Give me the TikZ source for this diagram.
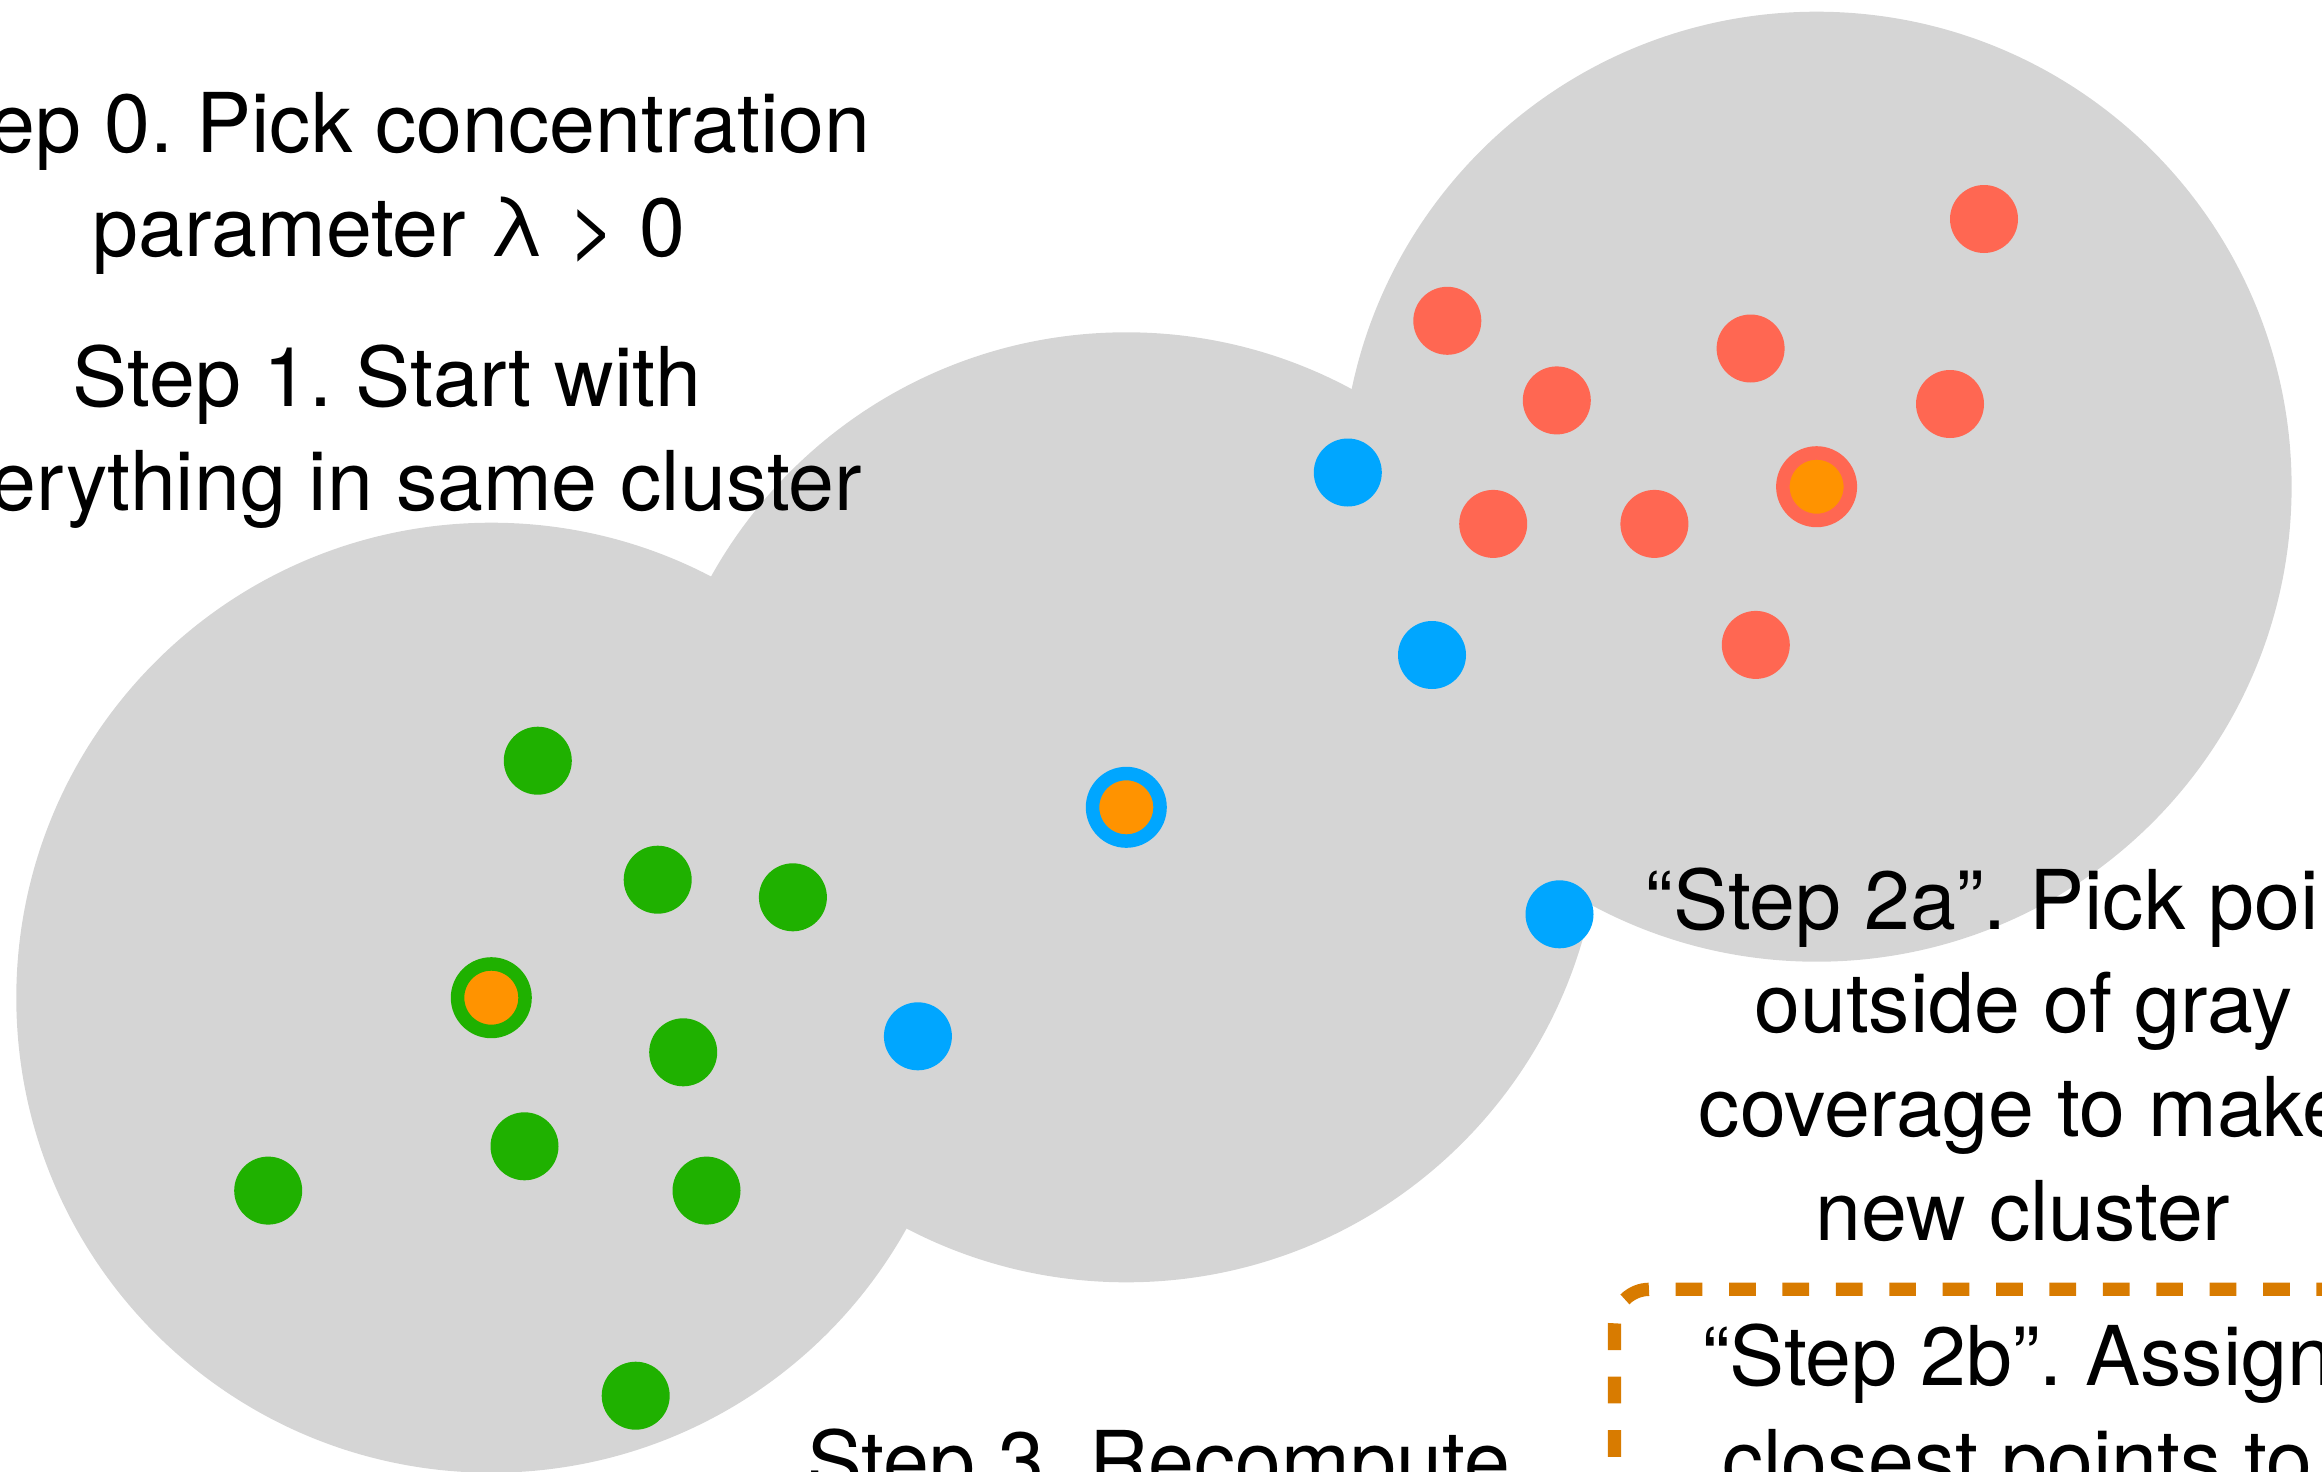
\documentclass[tikz,border=0pt]{standalone}
\usepackage{fontspec}
\setmainfont{TeX Gyre Heros}
\definecolor{cgray}{HTML}{D5D5D5}
\definecolor{cred}{HTML}{FF6752}
\definecolor{cblue}{HTML}{00A6FF}
\definecolor{cgreen}{HTML}{1FB100}
\definecolor{corange}{HTML}{FF9300}
\definecolor{cdash}{HTML}{D87B00}
\begin{document}
\frenchspacing
\begin{tikzpicture}[x=1pt,y=-1pt,
  dot/.style={circle,inner sep=0pt,minimum size=68pt},
  ctr/.style={circle,inner sep=0pt,minimum size=67.5pt,line width=13.5pt,fill=corange},
  lbl/.style={inner sep=0pt,font=\fontsize{82.5}{104}\selectfont\frenchspacing},
  blob/.style={cgray}]
\useasboundingbox (0,0) rectangle (2322,1472);
\clip (0,0) rectangle (2322,1472);
% gray coverage
\fill[blob] (491.3,997.7) circle[radius=475pt];
\fill[blob] (1126.3,807.3) circle[radius=475pt];
\fill[blob] (1816.6,486.7) circle[radius=475pt];
% green cluster
\node[dot,fill=cgreen] (g1) at (537.8,760.7) {};
\node[dot,fill=cgreen] (g2) at (657.7,879.7) {};
\node[dot,fill=cgreen] (g3) at (792.9,897.3) {};
\node[dot,fill=cgreen] (g4) at (683.2,1052.3) {};
\node[dot,fill=cgreen] (g5) at (524.5,1146.3) {};
\node[dot,fill=cgreen] (g6) at (268.2,1190.6) {};
\node[dot,fill=cgreen] (g7) at (706.5,1190.6) {};
\node[dot,fill=cgreen] (g8) at (635.7,1395.7) {};
\node[ctr,draw=cgreen] (gc) at (491.3,997.7) {};
% blue cluster
\node[dot,fill=cblue] (b1) at (1347.8,472.5) {};
\node[dot,fill=cblue] (b2) at (1432,655) {};
\node[dot,fill=cblue] (b3) at (917.9,1036.3) {};
\node[dot,fill=cblue] (b4) at (1559.5,914.3) {};
\node[ctr,draw=cblue] (bc) at (1126.3,807.3) {};
% red cluster
\node[dot,fill=cred] (r1) at (1984,219) {};
\node[dot,fill=cred] (r2) at (1447.3,320.8) {};
\node[dot,fill=cred] (r3) at (1750.6,348.5) {};
\node[dot,fill=cred] (r4) at (1556.8,400.4) {};
\node[dot,fill=cred] (r5) at (1950,404) {};
\node[dot,fill=cred] (r6) at (1493.2,523.9) {};
\node[dot,fill=cred] (r7) at (1654.4,523.9) {};
\node[dot,fill=cred] (r8) at (1755.8,644.9) {};
\node[ctr,draw=cred] (rc) at (1816.6,486.7) {};
% dashed box
\draw[cdash,line width=13.3pt,dash pattern=on 26.7pt off 26.7pt,dash phase=17pt,rounded corners=35pt]
  (1614.5,1600) -- (1614.5,1289.3) -- (2500,1289.3);
% texts
\node[lbl,anchor=base east] (s0a) at (870.5,152.7) {Step 0. Pick concentration};
\node[lbl,anchor=base] (s0b) at (389,256.7) {parameter λ > 0};
\node[lbl,anchor=base] (s1a) at (387,406.7) {Step 1. Start with};
\node[lbl,anchor=base east] (s1b) at (862.2,510.7) {everything in same cluster};
\node[lbl,anchor=base west] (s2a1) at (1645.7,929) {“Step 2a”. Pick point};
\node[lbl,anchor=base] (s2a2) at (2023.6,1032) {outside of gray};
\node[lbl,anchor=base] (s2a3) at (2023.6,1136) {coverage to make};
\node[lbl,anchor=base] (s2a4) at (2023,1240) {new cluster};
\node[lbl,anchor=base west] (s2b1) at (1701.8,1385) {“Step 2b”. Assign};
\node[lbl,anchor=base west] (s2b2) at (1722,1489) {closest points to};
\node[lbl,anchor=base west] (s3) at (807,1490) {Step 3. Recompute};
\end{tikzpicture}
\end{document}
